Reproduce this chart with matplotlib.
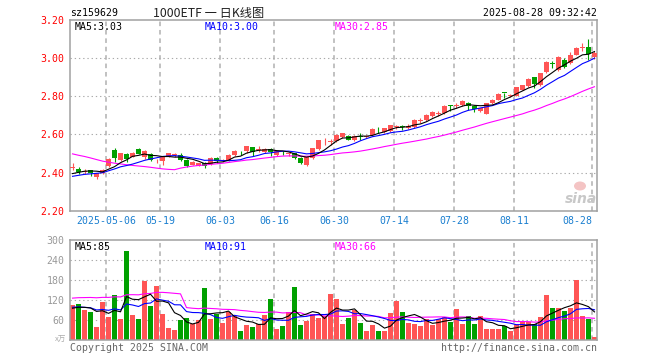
import numpy as np
import pandas as pd
import matplotlib
matplotlib.use("Agg")
import matplotlib.pyplot as plt
from matplotlib.patches import Ellipse

# ---------------- data ----------------
holidays = ["2025-05-01", "2025-05-02", "2025-05-05", "2025-06-02"]
dates = [d for d in pd.bdate_range("2025-04-23", "2025-08-28")
         if d.strftime("%Y-%m-%d") not in holidays]

tick_dates = ["2025-05-06", "2025-05-19", "2025-06-03", "2025-06-16", "2025-06-30",
              "2025-07-14", "2025-07-28", "2025-08-11", "2025-08-28"]

open_ = [2.425, 2.419, 2.403, 2.411, 2.378, 2.400, 2.432, 2.516, 2.467, 2.497,
         2.484, 2.525, 2.484, 2.498, 2.458, 2.458, 2.484, 2.490, 2.493, 2.467,
         2.442, 2.435, 2.449, 2.444, 2.476, 2.460, 2.463, 2.490, 2.505, 2.511,
         2.533, 2.520, 2.507, 2.525, 2.490, 2.505, 2.496, 2.502, 2.476, 2.441,
         2.476, 2.525, 2.563, 2.562, 2.563, 2.586, 2.594, 2.571, 2.592, 2.586,
         2.596, 2.630, 2.614, 2.620, 2.638, 2.642, 2.636, 2.640, 2.668, 2.677,
         2.695, 2.708, 2.712, 2.752, 2.749, 2.753, 2.765, 2.751, 2.725, 2.707,
         2.765, 2.783, 2.817, 2.800, 2.804, 2.835, 2.853, 2.899, 2.857, 2.926,
         2.972, 2.940, 2.988, 2.976, 3.015, 3.052, 3.058, 3.004]
high = [2.449, 2.428, 2.420, 2.413, 2.400, 2.420, 2.474, 2.528, 2.505, 2.500,
        2.510, 2.527, 2.520, 2.500, 2.470, 2.485, 2.505, 2.500, 2.500, 2.470,
        2.458, 2.452, 2.455, 2.480, 2.480, 2.472, 2.497, 2.517, 2.515, 2.540,
        2.535, 2.540, 2.530, 2.528, 2.515, 2.514, 2.505, 2.505, 2.480, 2.485,
        2.530, 2.572, 2.579, 2.578, 2.600, 2.609, 2.598, 2.595, 2.607, 2.598,
        2.632, 2.640, 2.635, 2.652, 2.650, 2.651, 2.656, 2.680, 2.685, 2.706,
        2.722, 2.725, 2.755, 2.753, 2.763, 2.780, 2.770, 2.755, 2.740, 2.766,
        2.785, 2.816, 2.818, 2.814, 2.850, 2.860, 2.895, 2.902, 2.922, 2.985,
        2.985, 3.010, 3.002, 3.030, 3.060, 3.080, 3.100, 3.040]
low = [2.411, 2.390, 2.395, 2.380, 2.365, 2.395, 2.430, 2.455, 2.460, 2.455,
       2.480, 2.495, 2.470, 2.460, 2.450, 2.440, 2.480, 2.480, 2.460, 2.430,
       2.440, 2.432, 2.425, 2.440, 2.450, 2.455, 2.460, 2.485, 2.490, 2.505,
       2.486, 2.510, 2.500, 2.486, 2.485, 2.490, 2.485, 2.470, 2.445, 2.435,
       2.470, 2.520, 2.547, 2.547, 2.560, 2.580, 2.570, 2.565, 2.570, 2.580,
       2.590, 2.610, 2.610, 2.615, 2.630, 2.622, 2.628, 2.635, 2.660, 2.672,
       2.690, 2.695, 2.708, 2.722, 2.740, 2.750, 2.730, 2.720, 2.715, 2.705,
       2.762, 2.780, 2.790, 2.795, 2.800, 2.833, 2.850, 2.845, 2.855, 2.920,
       2.950, 2.935, 2.950, 2.970, 3.015, 3.040, 2.990, 2.995]
close = [2.430, 2.402, 2.410, 2.397, 2.397, 2.412, 2.472, 2.476, 2.502, 2.470,
         2.505, 2.498, 2.511, 2.467, 2.462, 2.481, 2.500, 2.495, 2.467, 2.432,
         2.455, 2.449, 2.432, 2.476, 2.458, 2.465, 2.493, 2.514, 2.500, 2.537,
         2.507, 2.525, 2.525, 2.507, 2.511, 2.500, 2.499, 2.476, 2.449, 2.481,
         2.528, 2.569, 2.566, 2.566, 2.598, 2.607, 2.573, 2.592, 2.588, 2.594,
         2.628, 2.626, 2.632, 2.648, 2.645, 2.638, 2.642, 2.677, 2.672, 2.704,
         2.720, 2.712, 2.751, 2.749, 2.753, 2.777, 2.751, 2.733, 2.738, 2.765,
         2.783, 2.814, 2.815, 2.805, 2.849, 2.857, 2.891, 2.867, 2.920, 2.979,
         2.968, 3.005, 2.954, 3.015, 3.055, 3.058, 3.020, 3.025]
volume = [106, 109, 91, 86, 40, 116, 70, 136, 64, 268,
          76, 64, 178, 103, 163, 79, 37, 31, 61, 67,
          48, 61, 157, 64, 79, 52, 85, 73, 29, 46,
          40, 49, 76, 124, 34, 43, 85, 160, 46, 59,
          79, 67, 73, 139, 124, 49, 67, 91, 52, 28,
          46, 28, 28, 82, 118, 85, 52, 49, 43, 64,
          46, 64, 70, 56, 94, 49, 73, 49, 73, 34,
          34, 34, 43, 28, 49, 55, 55, 49, 70, 136,
          97, 97, 88, 98, 180, 73, 64, 10]

# estimated history before the window (feeds the moving averages only)
prior_close = [2.62, 2.60, 2.63, 2.65, 2.66, 2.64, 2.63, 2.62, 2.60, 2.61,
               2.59, 2.60, 2.58, 2.59, 2.60, 2.58, 2.547, 2.22, 2.26, 2.31,
               2.35, 2.36, 2.37, 2.37, 2.38, 2.37, 2.38, 2.39, 2.403]
prior_volume = [70, 82, 76, 68, 79, 74, 81, 77, 72, 69,
                78, 80, 73, 71, 76, 74, 80, 110, 1300, 105,
                100, 104, 98, 106, 102, 95, 92, 96, 91]

title_code = "sz159629"
title_name = "1000ETF 一 日K线图"
timestamp = "2025-08-28 09:32:42"
price_ticks = [2.20, 2.40, 2.60, 2.80, 3.00, 3.20]
vol_ticks = [60, 120, 180, 240, 300]

# ---------------- derived ----------------
o = np.array(open_); h = np.array(high); l = np.array(low); c = np.array(close)
v = np.array(volume, dtype=float)
n = len(c)
x = np.arange(n)
np_ = len(prior_close)
full_c = pd.Series(list(prior_close) + list(close))
full_v = pd.Series(list(prior_volume) + list(volume), dtype=float)
ma = {k: full_c.rolling(k).mean().values[np_:] for k in (5, 10, 30)}
vma = {k: full_v.rolling(k).mean().values[np_:] for k in (5, 10, 30)}

date_str = [d.strftime("%Y-%m-%d") for d in dates]
tick_idx = [date_str.index(t) for t in tick_dates]
tick_lbl = [tick_dates[0]] + [t[5:] for t in tick_dates[1:]]

RED = "#ff5555"
GREEN = "#00a000"
up = c >= o
cols = np.where(up, RED, GREEN)

# ---------------- figure ----------------
W, H = 660, 360
fig = plt.figure(figsize=(W / 100, H / 100), dpi=100)
fig.patch.set_facecolor("white")

def fx(px):
    return px / W

def fy(py):
    return 1 - py / H

L, R = 70, 597
PT, PB = 20, 210.7
VT, VB = 240, 340.3
axp = fig.add_axes([fx(L), fy(PB), fx(R - L), (PB - PT) / H])
axv = fig.add_axes([fx(L), fy(VB), fx(R - L), (VB - VT) / H])

MONO = "DejaVu Sans Mono"
FS = 7.1
GRIDC = "#aaaaaa"
LW = 0.8
xl = (-0.42, n - 0.58)

for ax in (axp, axv):
    ax.set_xlim(*xl)
    for s in ax.spines.values():
        s.set_color("#a0a0a0")
        s.set_linewidth(1.1)
    ax.tick_params(length=0)
    ax.set_xticks([])
    for t in tick_idx:
        ax.axvline(t - 0.42, color="#b0b0b0", lw=1.1, ls=(0, (3.0, 2.5)), zorder=0)

# price panel
axp.set_ylim(price_ticks[0], price_ticks[-1])
axp.set_yticks(price_ticks)
axp.set_yticklabels([f"{t:.2f}" for t in price_ticks], color="red",
                    fontfamily=MONO, fontsize=FS)
axp.tick_params(axis="y", pad=4)
for t in price_ticks[1:-1]:
    axp.axhline(t, color=GRIDC, lw=0.8, ls=(0, (1.2, 2.6)), zorder=0)

axp.vlines(x, l, h, colors=cols, lw=0.8, zorder=2)
body_bot = np.minimum(o, c)
body_h = np.maximum(np.abs(c - o), 0.005)
axp.bar(x, body_h, bottom=body_bot, width=0.82, color=cols, lw=0, zorder=3)

axp.plot(x, ma[30], color="#ff00ff", lw=LW, zorder=4)
axp.plot(x, ma[10], color="#0000ff", lw=LW, zorder=4)
axp.plot(x, ma[5], color="black", lw=LW, zorder=4)

# volume panel
axv.set_ylim(0, vol_ticks[-1])
axv.set_yticks(vol_ticks)
axv.set_yticklabels([str(t) for t in vol_ticks], color="#999999",
                    fontfamily=MONO, fontsize=FS)
axv.tick_params(axis="y", pad=4)
for t in vol_ticks[:-1]:
    axv.axhline(t, color=GRIDC, lw=0.8, ls=(0, (1.2, 2.6)), zorder=0)
axv.bar(x, v, width=0.84, color=cols, lw=0, zorder=2)
axv.plot(x, vma[30], color="#ff00ff", lw=LW, zorder=4)
axv.plot(x, vma[10], color="#0000ff", lw=LW, zorder=4)
axv.plot(x, vma[5], color="black", lw=LW, zorder=4)

# date labels
for i, (t, lab) in enumerate(zip(tick_idx, tick_lbl)):
    xp = L + (t - 0.42 - xl[0]) / (xl[1] - xl[0]) * (R - L)
    ha = "right" if i == len(tick_idx) - 1 else "center"
    fig.text(fx(xp), fy(221), lab, color="#1a7fd0", fontfamily=MONO,
             fontsize=FS, ha=ha, va="center")

# header texts
fig.text(fx(70), fy(13), title_code, fontfamily=MONO, fontsize=FS,
         ha="left", va="center", color="black")
fig.text(fx(209), fy(13), title_name, fontfamily=["Noto Sans CJK SC", "DejaVu Sans"],
         fontsize=8.8, ha="center", va="center", color="#222222")
fig.text(fx(597), fy(13), timestamp, fontfamily=MONO, fontsize=FS,
         ha="right", va="center", color="black")

# MA legends
fig.text(fx(75), fy(27), f"MA5:{ma[5][-1]:.2f}", fontfamily=MONO, fontsize=FS,
         color="black", va="center")
fig.text(fx(205), fy(27), f"MA10:{ma[10][-1]:.2f}", fontfamily=MONO, fontsize=FS,
         color="#0000ff", va="center")
fig.text(fx(335), fy(27), f"MA30:{ma[30][-1]:.2f}", fontfamily=MONO, fontsize=FS,
         color="#ff00ff", va="center")
fig.text(fx(75), fy(246.5), f"MA5:{vma[5][-1]:.0f}", fontfamily=MONO, fontsize=FS,
         color="black", va="center")
fig.text(fx(205), fy(246.5), f"MA10:{vma[10][-1]:.0f}", fontfamily=MONO, fontsize=FS,
         color="#0000ff", va="center")
fig.text(fx(335), fy(246.5), f"MA30:{vma[30][-1]:.0f}", fontfamily=MONO, fontsize=FS,
         color="#ff00ff", va="center")

# unit + footer
fig.text(fx(66), fy(340), "x万", fontfamily=["Noto Sans CJK SC", "DejaVu Sans"],
         fontsize=5.5, color="#aaaaaa", ha="right", va="center")
fig.text(fx(70), fy(348), "Copyright 2025 SINA.COM", fontfamily=MONO,
         fontsize=FS, color="#666666", ha="left", va="center")
fig.text(fx(597), fy(348), "http://finance.sina.com.cn", fontfamily=MONO,
         fontsize=FS, color="#666666", ha="right", va="center")

# sina watermark
fig.text(fx(581), fy(199), "sina", fontsize=10, fontweight="bold", style="italic",
         color="#c8c8c8", ha="center", va="center", family="DejaVu Sans")
fig.patches.append(Ellipse((fx(580), fy(186)), 12 / W, 9 / H, transform=fig.transFigure,
                           facecolor="#f4c4c4", edgecolor="none", figure=fig))

fig.savefig("out.png", dpi=100, facecolor="white")
